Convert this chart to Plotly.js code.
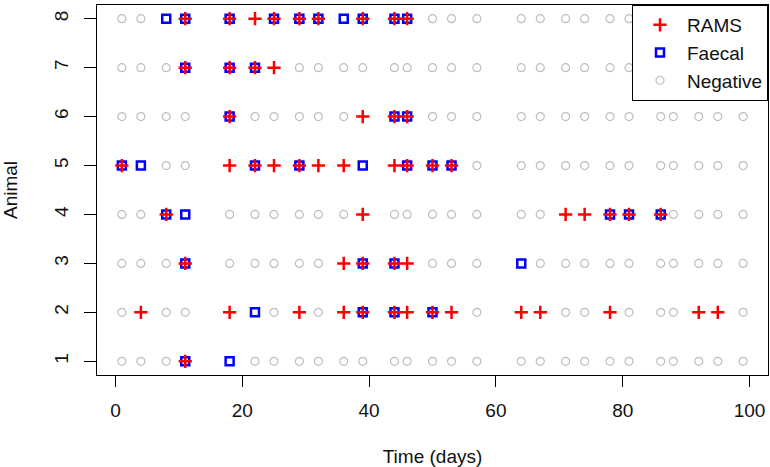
<!DOCTYPE html>
<html>
<head>
<meta charset="utf-8">
<script src="https://cdn.plot.ly/plotly-3.0.1.min.js"></script>
<style>html,body{margin:0;padding:0;background:#fff;}#chart{width:770px;height:467px;}</style>
</head>
<body>
<div id="chart"></div>
<script>
// Sampling days
const days = [1,4,8,11,18,22,25,29,32,36,39,44,46,50,53,57,64,67,71,74,78,81,86,88,92,95,99];
const animals = [1,2,3,4,5,6,7,8];

// Positive days per animal
const ramsPos = {
  1: [11],
  2: [4,18,29,36,39,44,46,50,53,64,67,78,92,95],
  3: [11,36,39,44,46],
  4: [8,39,71,74,78,81,86],
  5: [1,18,22,25,29,32,36,44,46,50,53],
  6: [18,39,44,46],
  7: [11,18,22,25],
  8: [11,18,22,25,29,32,39,44,46]
};
const faecalPos = {
  1: [11,18],
  2: [22,39,44,50],
  3: [11,39,44,64],
  4: [8,11,78,81,86],
  5: [1,4,22,29,39,46,50,53],
  6: [18,44,46],
  7: [11,18,22],
  8: [8,11,18,25,29,32,36,39,44,46]
};

const ramsX = [], ramsY = [], faecX = [], faecY = [], negX = [], negY = [];
animals.forEach(a => {
  ramsPos[a].forEach(d => { ramsX.push(d); ramsY.push(a); });
  faecalPos[a].forEach(d => { faecX.push(d); faecY.push(a); });
  days.forEach(d => {
    if (ramsPos[a].indexOf(d) < 0 && faecalPos[a].indexOf(d) < 0) { negX.push(d); negY.push(a); }
  });
});

const FONT = 'Liberation Sans, Arial, Helvetica, sans-serif';
const TXT = '#111111';

const traces = [
  {x: negX, y: negY, type: 'scatter', mode: 'markers', name: 'Negative',
   marker: {symbol: 'circle-open', size: 8, color: '#bebebe', line: {width: 1.2, color: '#bebebe'}}},
  {x: faecX, y: faecY, type: 'scatter', mode: 'markers', name: 'Faecal',
   marker: {symbol: 'square-open', size: 8, color: '#0000ff', line: {width: 2.5, color: '#0000ff'}}},
  {x: ramsX, y: ramsY, type: 'scatter', mode: 'markers', name: 'RAMS',
   marker: {symbol: 'cross-thin-open', size: 9.5, color: '#ff0000', line: {width: 2.5, color: '#ff0000'}}}
];

const layout = {
  width: 770, height: 467,
  margin: {l: 97, r: 2, t: 5, b: 92},
  paper_bgcolor: '#ffffff', plot_bgcolor: '#ffffff',
  font: {family: FONT, size: 19, color: TXT},
  showlegend: true,
  legend: {
    x: 1, y: 1, xanchor: 'right', yanchor: 'top',
    bgcolor: '#ffffff', bordercolor: '#000', borderwidth: 1,
    traceorder: 'reversed', itemwidth: 44,
    font: {family: FONT, size: 19, color: TXT}
  },
  xaxis: {
    range: [-2.92, 102.92], tickvals: [0,20,40,60,80,100],
    showgrid: false, zeroline: false,
    showline: true, mirror: true, linecolor: '#000', linewidth: 1,
    ticks: 'outside', ticklen: 11, tickcolor: '#000', tickwidth: 1,
    ticklabelstandoff: 7,
    tickfont: {family: FONT, size: 19, color: TXT},
    title: {text: 'Time (days)', font: {family: FONT, size: 19, color: TXT}, standoff: 31}
  },
  yaxis: {
    range: [0.72, 8.28], tickvals: animals,
    showgrid: false, zeroline: false,
    showline: true, mirror: true, linecolor: '#000', linewidth: 1,
    ticks: 'outside', ticklen: 12, tickcolor: '#000', tickwidth: 1,
    tickangle: -90, ticklabelstandoff: 8,
    tickfont: {family: FONT, size: 19, color: TXT},
    title: {text: 'Animal', font: {family: FONT, size: 19, color: TXT}, standoff: 30}
  }
};

Plotly.newPlot('chart', traces, layout, {displayModeBar: false, staticPlot: true});
</script>
</body>
</html>
